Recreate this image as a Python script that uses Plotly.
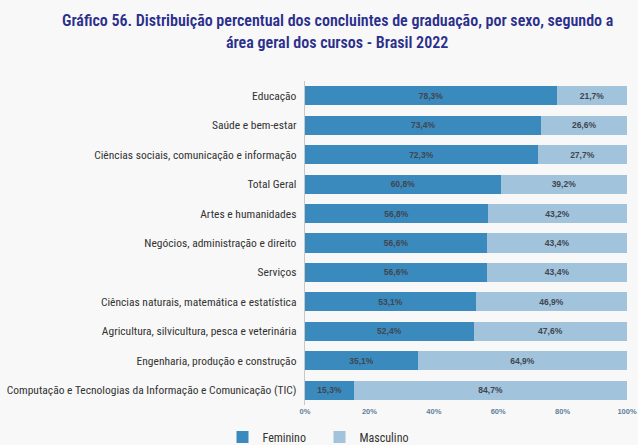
import plotly.graph_objects as go

categories = [
    "Educação",
    "Saúde e bem-estar",
    "Ciências sociais, comunicação e informação",
    "Total Geral",
    "Artes e humanidades",
    "Negócios, administração e direito",
    "Serviços",
    "Ciências naturais, matemática e estatística",
    "Agricultura, silvicultura, pesca e veterinária",
    "Engenharia, produção e construção",
    "Computação e Tecnologias da Informação e Comunicação (TIC)",
]
feminino = [78.3, 73.4, 72.3, 60.8, 56.8, 56.6, 56.6, 53.1, 52.4, 35.1, 15.3]
masculino = [21.7, 26.6, 27.7, 39.2, 43.2, 43.4, 43.4, 46.9, 47.6, 64.9, 84.7]
tick_vals = [0, 20, 40, 60, 80, 100]
tick_text = ["0%", "20%", "40%", "60%", "80%", "100%"]
title_lines = [
    "Gráfico 56. Distribuição percentual dos concluintes de graduação, por sexo, segundo a",
    "área geral dos cursos - Brasil 2022",
]

COL_F = "#3b8abd"
COL_M = "#a2c3dc"
NARROW = "Roboto Condensed, Liberation Sans Narrow, Arial Narrow, Roboto, sans-serif"
SMALL = "Liberation Sans, Arial, sans-serif"


def fmt(v):
    return f"{v:.1f}".replace(".", ",") + "%"


fig = go.Figure()
for name, vals, col in [("Feminino", feminino, COL_F), ("Masculino", masculino, COL_M)]:
    fig.add_trace(go.Bar(
        y=categories, x=vals, name=name, orientation="h",
        marker=dict(color=col, line=dict(width=0)),
        text=[fmt(v) for v in vals], textposition="inside",
        insidetextanchor="middle",
        textfont=dict(family=SMALL, size=8.5, color="#3f4650", weight="bold"),
        constraintext="none",
    ))

fig.update_layout(
    width=638, height=445,
    barmode="stack", bargap=0.35,
    paper_bgcolor="#f8f8f8", plot_bgcolor="rgba(0,0,0,0)",
    margin=dict(l=305, r=11, t=81, b=40, autoexpand=False),
    xaxis=dict(range=[0, 100], tickvals=tick_vals, ticktext=tick_text,
               showgrid=False, zeroline=False, showline=False, ticks="",
               automargin=False,
               tickfont=dict(family=SMALL, size=7.5, color="#5f7f9c", weight="bold"),
               fixedrange=True),
    yaxis=dict(autorange="reversed", showgrid=False, zeroline=False,
               showline=True, linecolor="#c8c8c8", linewidth=1, ticks="",
               ticksuffix="  ", automargin=False,
               tickfont=dict(family=NARROW, size=11.5, color="#333333")),
    legend=dict(orientation="h", x=0.045, xanchor="center",
                yref="container", y=0.018, yanchor="middle",
                font=dict(family=NARROW, size=12, color="#333333"),
                itemwidth=30, entrywidth=52, entrywidthmode="pixels",
                traceorder="normal"),
    showlegend=True,
)

# two-line title placed in paper coordinates above the plot area
for line, ypos in zip(title_lines, [1.188, 1.120]):
    fig.add_annotation(
        text=line, xref="paper", yref="paper", x=0.1, y=ypos,
        xanchor="center", yanchor="middle", showarrow=False,
        font=dict(family=NARROW, size=16, color="#2b2f8c", weight=600),
    )

fig.write_html("out.html")
